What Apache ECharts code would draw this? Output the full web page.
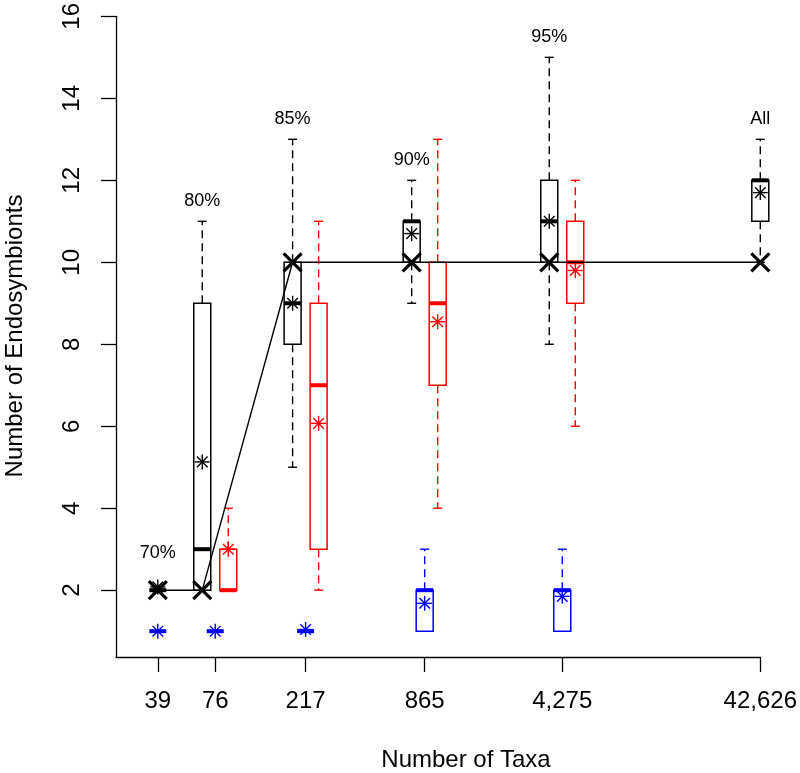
<!DOCTYPE html>
<html>
<head>
<meta charset="utf-8">
<script src="https://cdn.jsdelivr.net/npm/echarts@6/dist/echarts.min.js"></script>
<style>
html,body{margin:0;padding:0;background:#fff;}
#chart{width:800px;height:773px;}
</style>
</head>
<body>
<div id="chart"></div>
<script>
// ---- data ----
const taxa = [39, 76, 217, 865, 4275, 42626];
const groupLabels = ['70%', '80%', '85%', '90%', '95%', 'All'];
const groupLabelHeights = [2.9, 11.5, 13.5, 12.5, 15.5, 13.5];
const yTicks = [2, 4, 6, 8, 10, 12, 14, 16];

const blackMin  = [2, 2, 5, 9, 8, 10];
const blackQ1   = [2, 2, 8, 10, 10, 11];
const blackMed  = [2, 3, 9, 11, 11, 12];
const blackQ3   = [2, 9, 10, 11, 12, 12];
const blackMax  = [2, 11, 13, 12, 15, 13];
const blackMean = [2.08, 5.13, 9.0, 10.7, 11.0, 11.7];

const redMin  = [null, 2, 2, 4, 6, null];
const redQ1   = [null, 2, 3, 7, 9, null];
const redMed  = [null, 2, 7, 9, 10, null];
const redQ3   = [null, 3, 9, 10, 11, null];
const redMax  = [null, 4, 11, 13, 12, null];
const redMean = [null, 3.0, 6.07, 8.55, 9.8, null];

const blueMin  = [1, 1, 1, 1, 1, null];
const blueQ1   = [1, 1, 1, 1, 1, null];
const blueMed  = [1, 1, 1, 2, 2, null];
const blueQ3   = [1, 1, 1, 2, 2, null];
const blueMax  = [1, 1, 1, 3, 3, null];
const blueMean = [1.0, 1.0, 1.04, 1.68, 1.85, null];

const refLine = [2, 2, 10, 10, 10, 10];

// ---- build ----
function build(mn, q1, md, q3, mx, mean) {
  const out = [];
  taxa.forEach((t, i) => {
    if (mn[i] === null) return;
    out.push([t, mn[i], q1[i], md[i], q3[i], mx[i], mean[i]]);
  });
  return out;
}
const FONT = 'Liberation Sans, Arial, Helvetica, sans-serif';
const SHIFT = 13;
function hasRed(t) { const i = taxa.indexOf(t); return i >= 0 && redMin[i] !== null; }
const offBlack = t => hasRed(t) ? -SHIFT : 0;
const offRed = t => SHIFT;
const offBlue = t => 0;

function asterisk(cx, cy, color) {
  const r = 7.5, d = r / Math.SQRT2;
  const st = { stroke: color, lineWidth: 1.4 };
  return [
    { type: 'line', shape: { x1: cx - r, y1: cy, x2: cx + r, y2: cy }, style: st },
    { type: 'line', shape: { x1: cx, y1: cy - r, x2: cx, y2: cy + r }, style: st },
    { type: 'line', shape: { x1: cx - d, y1: cy - d, x2: cx + d, y2: cy + d }, style: st },
    { type: 'line', shape: { x1: cx - d, y1: cy + d, x2: cx + d, y2: cy - d }, style: st }
  ];
}

function boxRenderer(color, offFn) {
  return function (params, api) {
    const t = api.value(0);
    const off = offFn(t);
    const c = v => { const p = api.coord([t, v]); return [p[0] + off, p[1]]; };
    const mn = api.value(1), q1 = api.value(2), md = api.value(3), q3 = api.value(4), mx = api.value(5), mean = api.value(6);
    const pMin = c(mn), pQ1 = c(q1), pMd = c(md), pQ3 = c(q3), pMx = c(mx), pMean = c(mean);
    const cx = pMd[0], hw = 8.5, capHw = 4.5;
    const ch = [];
    const dash = { stroke: color, lineWidth: 1.4, lineDash: [8, 5] };
    const solid = { stroke: color, lineWidth: 1.4 };
    if (mx > q3) {
      ch.push({ type: 'line', shape: { x1: cx, y1: pQ3[1], x2: cx, y2: pMx[1] }, style: dash });
      ch.push({ type: 'line', shape: { x1: cx - capHw, y1: pMx[1], x2: cx + capHw, y2: pMx[1] }, style: solid });
    }
    if (mn < q1) {
      ch.push({ type: 'line', shape: { x1: cx, y1: pQ1[1], x2: cx, y2: pMin[1] }, style: dash });
      ch.push({ type: 'line', shape: { x1: cx - capHw, y1: pMin[1], x2: cx + capHw, y2: pMin[1] }, style: solid });
    }
    if (q3 > q1) {
      ch.push({ type: 'rect', shape: { x: cx - hw, y: pQ3[1], width: 2 * hw, height: pQ1[1] - pQ3[1] },
        style: { stroke: color, lineWidth: 1.5, fill: 'none' } });
    }
    ch.push({ type: 'line', shape: { x1: cx - hw, y1: pMd[1], x2: cx + hw, y2: pMd[1] }, style: { stroke: color, lineWidth: 4 } });
    asterisk(cx, pMean[1], color).forEach(e => ch.push(e));
    return { type: 'group', children: ch };
  };
}

const refData = taxa.map((t, i) => [t, refLine[i]]);
function refRenderer(params, api) {
  const i = params.dataIndex;
  const t = api.value(0);
  const p = api.coord([t, api.value(1)]);
  const x = p[0] + offBlack(t), y = p[1];
  const ch = [];
  if (i > 0) {
    const tp = taxa[i - 1];
    const pp = api.coord([tp, refLine[i - 1]]);
    ch.push({ type: 'line', shape: { x1: pp[0] + offBlack(tp), y1: pp[1], x2: x, y2: y }, style: { stroke: '#000', lineWidth: 1.4 } });
  }
  const r = 9;
  ch.push({ type: 'line', shape: { x1: x - r, y1: y - r, x2: x + r, y2: y + r }, style: { stroke: '#000', lineWidth: 3.2 } });
  ch.push({ type: 'line', shape: { x1: x - r, y1: y + r, x2: x + r, y2: y - r }, style: { stroke: '#000', lineWidth: 3.2 } });
  return { type: 'group', children: ch };
}

const labelData = taxa.map((t, i) => [t, groupLabelHeights[i], groupLabels[i]]);
function labelRenderer(params, api) {
  const t = api.value(0);
  const p = api.coord([t, api.value(1)]);
  return { type: 'text', x: p[0] + offBlack(t), y: p[1],
    style: { text: groupLabels[params.dataIndex], fill: '#000', font: '18px ' + FONT, align: 'center', verticalAlign: 'middle' } };
}

const chart = echarts.init(document.getElementById('chart'), null, { renderer: 'canvas' });
chart.setOption({
  animation: false,
  backgroundColor: '#fff',
  grid: { left: 116, right: 37, top: 15, bottom: 116 },
  xAxis: {
    type: 'log', logBase: 10, min: 24.0, max: 42626,
    axisLine: { show: true, lineStyle: { color: '#000', width: 1.3 } },
    axisTick: { show: true, customValues: taxa, length: 15, inside: false, lineStyle: { color: '#000', width: 1.3 } },
    axisLabel: { customValues: taxa, color: '#000', fontSize: 24, fontFamily: FONT, margin: 32,
      formatter: v => Math.round(Number(v)).toLocaleString('en-US') },
    splitLine: { show: false }, minorTick: { show: false }, minorSplitLine: { show: false }
  },
  yAxis: {
    type: 'value', min: 0.37, max: 16,
    axisLine: { show: true, lineStyle: { color: '#000', width: 1.3 } },
    axisTick: { show: true, customValues: yTicks, length: 15, lineStyle: { color: '#000', width: 1.3 } },
    axisLabel: { customValues: yTicks, color: '#000', fontSize: 24, fontFamily: FONT, margin: 32, rotate: 90 },
    splitLine: { show: false }
  },
  graphic: [
    { type: 'text', x: 466, y: 760, style: { text: 'Number of Taxa', font: '24px ' + FONT, fill: '#000', align: 'center', verticalAlign: 'middle' } },
    { type: 'text', x: 15, y: 336, rotation: Math.PI / 2, style: { text: 'Number of Endosymbionts', font: '24px ' + FONT, fill: '#000', align: 'center', verticalAlign: 'middle' } }
  ],
  series: [
    { type: 'custom', name: 'ref', data: refData, renderItem: refRenderer, z: 5 },
    { type: 'custom', name: 'black', data: build(blackMin, blackQ1, blackMed, blackQ3, blackMax, blackMean), renderItem: boxRenderer('#000', offBlack), z: 3 },
    { type: 'custom', name: 'red', data: build(redMin, redQ1, redMed, redQ3, redMax, redMean), renderItem: boxRenderer('#ff0000', offRed), z: 3 },
    { type: 'custom', name: 'blue', data: build(blueMin, blueQ1, blueMed, blueQ3, blueMax, blueMean), renderItem: boxRenderer('#0000ff', offBlue), z: 3 },
    { type: 'custom', name: 'labels', data: labelData, renderItem: labelRenderer, z: 6 }
  ]
});
</script>
</body>
</html>
